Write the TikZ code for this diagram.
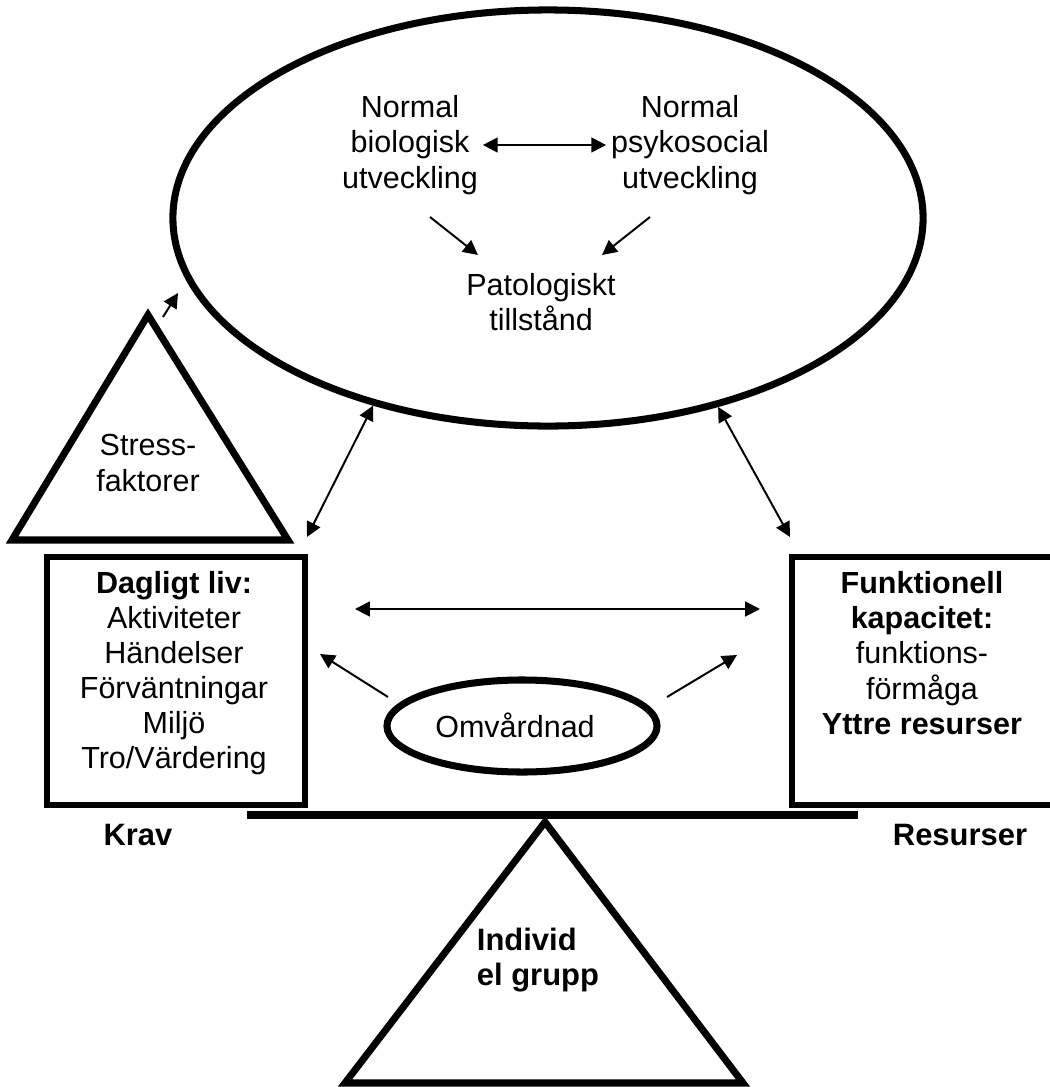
\documentclass[tikz,border=0pt]{standalone}
\usepackage{fontspec}
\setmainfont{Liberation Sans}
\usetikzlibrary{arrows.meta, shapes.geometric, positioning}

\tikzset{
  tjock/.style={line width=5pt},
  boks/.style={draw, line width=4.3pt},
  pil/.style={line width=1.4pt, ->},
  dubbelpil/.style={line width=1.4pt, <->},
  fet/.style={font=\fontsize{22}{25}\selectfont\bfseries},
}

\begin{document}
\begin{tikzpicture}[x=0.025cm, y=-0.025cm, >={Triangle[length=10.5pt,width=10.5pt]},
    every node/.style={font=\fontsize{21.7}{25}\selectfont}]
    \useasboundingbox (0,0) rectangle (1050,1087);
    \clip (0,0) rectangle (1050,1087);

    % Helheten
    \node[ellipse, draw, tjock, minimum width=18.75cm, minimum height=10.4cm] (helhet) at (548,218) {};
    \node[align=center] (bio) at (410,145) {Normal\\biologisk\\utveckling};
    \node[align=center] (psy) at (690,145) {Normal\\psykosocial\\utveckling};
    \node[align=center] (pat) at (541,302) {Patologiskt\\tillstånd};
    \draw[dubbelpil] (bio.east) -- (psy.west);
    \coordinate (bioslut) at (430,217);
    \coordinate (biospets) at (478,255);
    \coordinate (psyslut) at (650,217);
    \coordinate (psyspets) at (602,255);
    \draw[pil] (bioslut) -- (biospets);
    \draw[pil] (psyslut) -- (psyspets);

    % Stressfaktorer
    \draw[tjock] (148,315) -- (288,540) -- (12,540) -- cycle;
    \node[align=center] (stress) at (148,463) {Stress-\\faktorer};
    \coordinate (stresstopp) at (163,317);
    \coordinate (stresspets) at (178,293);
    \draw[pil] (stresstopp) -- (stresspets);

    % Vågen
    \node[boks, minimum width=6.45cm, minimum height=6.2cm] (dagligt) at (176,681) {};
    \node[align=center] (dagligttext) at (174,673)
        {\textbf{Dagligt liv:}\\Aktiviteter\\Händelser\\Förväntningar\\Miljö\\Tro/Värdering};
    \node[boks, minimum width=6.7cm, minimum height=6.2cm] (funktion) at (926,681) {};
    \node[align=center] (funktiontext) at (922,653)
        {\textbf{Funktionell}\\\textbf{kapacitet:}\\funktions-\\förmåga\\\textbf{Yttre resurser}};
    \coordinate (kravhorn) at (307,537);
    \coordinate (resurshorn) at (790,537);
    \draw[dubbelpil] (kravhorn) -- (helhet.227);
    \draw[dubbelpil] (resurshorn) -- (helhet.312);
    \coordinate (mittv) at (355,609);
    \coordinate (mitth) at (760,609);
    \draw[dubbelpil] (mittv) -- (mitth);

    % Omvårdnad
    \node[ellipse, draw, tjock, minimum width=6.75cm, minimum height=2.3cm] (omv) at (522,726) {};
    \node (omvtext) at (515,725) {Omvårdnad};
    \coordinate (omvv) at (388,697);
    \coordinate (omvvspets) at (320,654);
    \coordinate (omvh) at (667,697);
    \coordinate (omvhspets) at (737,655);
    \draw[pil] (omvv) -- (omvvspets);
    \draw[pil] (omvh) -- (omvhspets);

    % Balansen
    \draw[tjock] (247,815) -- (858,815);
    \node[fet] (krav) at (138,835) {Krav};
    \node[fet] (resurser) at (960,835) {Resurser};
    \draw[tjock] (545,822) -- (743,1083) -- (345,1083) -- cycle;
    \node[fet, align=left, anchor=west] (individ) at (472,960) {Individ\\el grupp};
\end{tikzpicture}
\end{document}
